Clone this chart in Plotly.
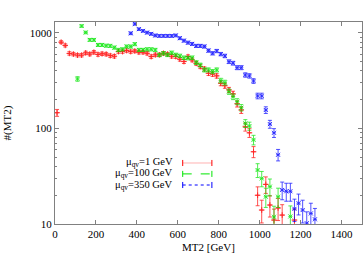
import plotly.graph_objects as go

# ---- data ----
bin_half_width = 10

red_x = [10, 30, 50, 70, 90, 110, 130, 150, 170, 190, 210, 230, 250, 270, 290,
         310, 330, 350, 370, 390, 410, 430, 450, 470, 490, 510, 530, 550, 570,
         590, 610, 630, 650, 670, 690, 710, 730, 750, 770, 790, 810, 830, 850,
         870, 890, 910, 930, 950, 970, 990, 1010, 1030, 1050, 1070, 1090, 1110, 1170]
red_y = [146, 800, 740, 610, 600, 585, 585, 618, 600, 628, 595, 605, 600, 578, 570,
         637, 637, 653, 637, 646, 627, 628, 612, 565, 589, 589, 612, 600, 570,
         565, 530, 501, 565, 521, 480, 444, 420, 378, 370, 355, 297, 280, 253,
         230, 181, 156, 104, 90, 57, 20, 14, 26, 15.8, 11, 14.7, 12.4, 11]

green_x = [110, 130, 150, 170, 190, 210, 230, 250, 270, 290, 310, 330, 350, 370,
           390, 410, 430, 450, 470, 490, 510, 530, 550, 570, 590, 610, 630, 650,
           670, 690, 710, 730, 750, 770, 790, 810, 830, 850, 870, 890, 910, 930,
           950, 970, 990, 1010, 1030, 1050, 1070, 1090, 1150]
green_y = [330, 1180, 1010, 845, 845, 748, 748, 735, 731, 702, 663, 673, 720, 720,
           762, 663, 663, 673, 673, 663, 589, 612, 589, 620, 589, 575, 550, 545,
           550, 489, 461, 410, 410, 394, 410, 317, 302, 243, 215, 191, 165, 113,
           106, 76, 36.7, 30, 19.3, 24.6, 11.9, 19.3, 12]

blue_x = [370, 390, 410, 430, 450, 470, 490, 510, 530, 550, 570, 590, 610, 630,
          650, 670, 690, 710, 730, 750, 770, 790, 810, 830, 850, 870, 890, 910,
          930, 950, 970, 990, 1010, 1030, 1050, 1070, 1090, 1110, 1130, 1150,
          1170, 1190, 1210, 1230, 1250, 1270]
blue_y = [990, 1240, 1094, 1050, 1007, 977, 940, 930, 930, 930, 930, 940, 880, 830,
          791, 767, 731, 731, 720, 653, 612, 646, 600, 574, 500, 482, 433, 433,
          363, 355, 314, 219, 219, 156, 111, 90, 53, 22.7, 22, 22, 14.4, 16.5,
          14, 10.2, 12.9, 11.2]

labels = ["μ<sub>qv</sub>=1 GeV", "μ<sub>qv</sub>=100 GeV", "μ<sub>qv</sub>=350 GeV"]
colors = ["#ff0000", "#00e600", "#0000ff"]
symbols = ["cross-thin-open", "x-thin-open", "x-thin-open"]

x_ticks = [0, 200, 400, 600, 800, 1000, 1200, 1400]
y_ticks = [10, 100, 1000]
y_minor = [20, 30, 40, 50, 60, 70, 80, 90, 200, 300, 400, 500, 600, 700, 800, 900]

FONT = "Liberation Serif"

fig = go.Figure()
series = [(red_x, red_y), (green_x, green_y), (blue_x, blue_y)]
for (xs, ys), c, s, name in zip(series, colors, symbols, labels):
    fig.add_trace(go.Scatter(
        x=xs, y=ys, mode="markers", name=name, opacity=0.85,
        marker=dict(symbol=s, size=4, color=c, line=dict(color=c, width=1)),
        error_y=dict(type="data", array=[v ** 0.5 for v in ys], color=c,
                     thickness=0.8, width=2),
        error_x=dict(type="constant", value=bin_half_width, color=c,
                     thickness=0.8, width=0),
        showlegend=False, cliponaxis=True,
    ))

axis_common = dict(showline=True, linecolor="#808080", linewidth=1, mirror="ticks",
                   ticks="inside", ticklen=4, tickcolor="#808080", showgrid=False,
                   zeroline=False, tickfont=dict(family=FONT, size=11, color="#000"))

fig.update_xaxes(range=[0, 1500], tickvals=x_ticks, **axis_common)
fig.update_yaxes(type="log", range=[1, 3.114], tickvals=y_ticks,
                 ticktext=[str(v) for v in y_ticks],
                 minor=dict(ticks="inside", ticklen=2, tickcolor="#808080",
                            tickvals=y_minor, showgrid=False),
                 **axis_common)

# legend (text on the left, sample on the right, like gnuplot)
rows = [0.302, 0.248, 0.193]
dashes = ["solid", "dash", "dot"]
for lab, c, yv, d, s in zip(labels, colors, rows, dashes, symbols):
    fig.add_annotation(xref="paper", yref="paper", x=0.39, y=yv, text=lab,
                       showarrow=False, xanchor="right", yanchor="middle",
                       font=dict(family=FONT, size=10.5, color="#000"))
    fig.add_shape(type="line", xref="paper", yref="paper", x0=0.416, x1=0.511,
                  y0=yv, y1=yv, line=dict(color=c, width=1, dash=d),
                  opacity=0.3 if d == "solid" else 1)
    for xe in (0.416, 0.511):
        fig.add_shape(type="line", xref="paper", yref="paper", x0=xe, x1=xe,
                      y0=yv - 0.015, y1=yv + 0.015, line=dict(color=c, width=1))

fig.add_annotation(xref="paper", yref="paper", x=0.5, y=-0.114, text="MT2 [GeV]",
                   showarrow=False, xanchor="center", yanchor="middle",
                   font=dict(family=FONT, size=11, color="#000"))
fig.add_annotation(xref="paper", yref="paper", x=-0.155, y=0.5, text="#(MT2)",
                   showarrow=False, textangle=-90, xanchor="center", yanchor="middle",
                   font=dict(family=FONT, size=11, color="#000"))

fig.update_layout(width=363, height=258, margin=dict(l=55, r=1, t=22, b=34),
                  paper_bgcolor="white", plot_bgcolor="white",
                  font=dict(family=FONT, size=11, color="#000"))

fig.write_html("out.html", config={"displayModeBar": False},
               post_script="document.body.style.margin='0';document.body.style.padding='0';")
